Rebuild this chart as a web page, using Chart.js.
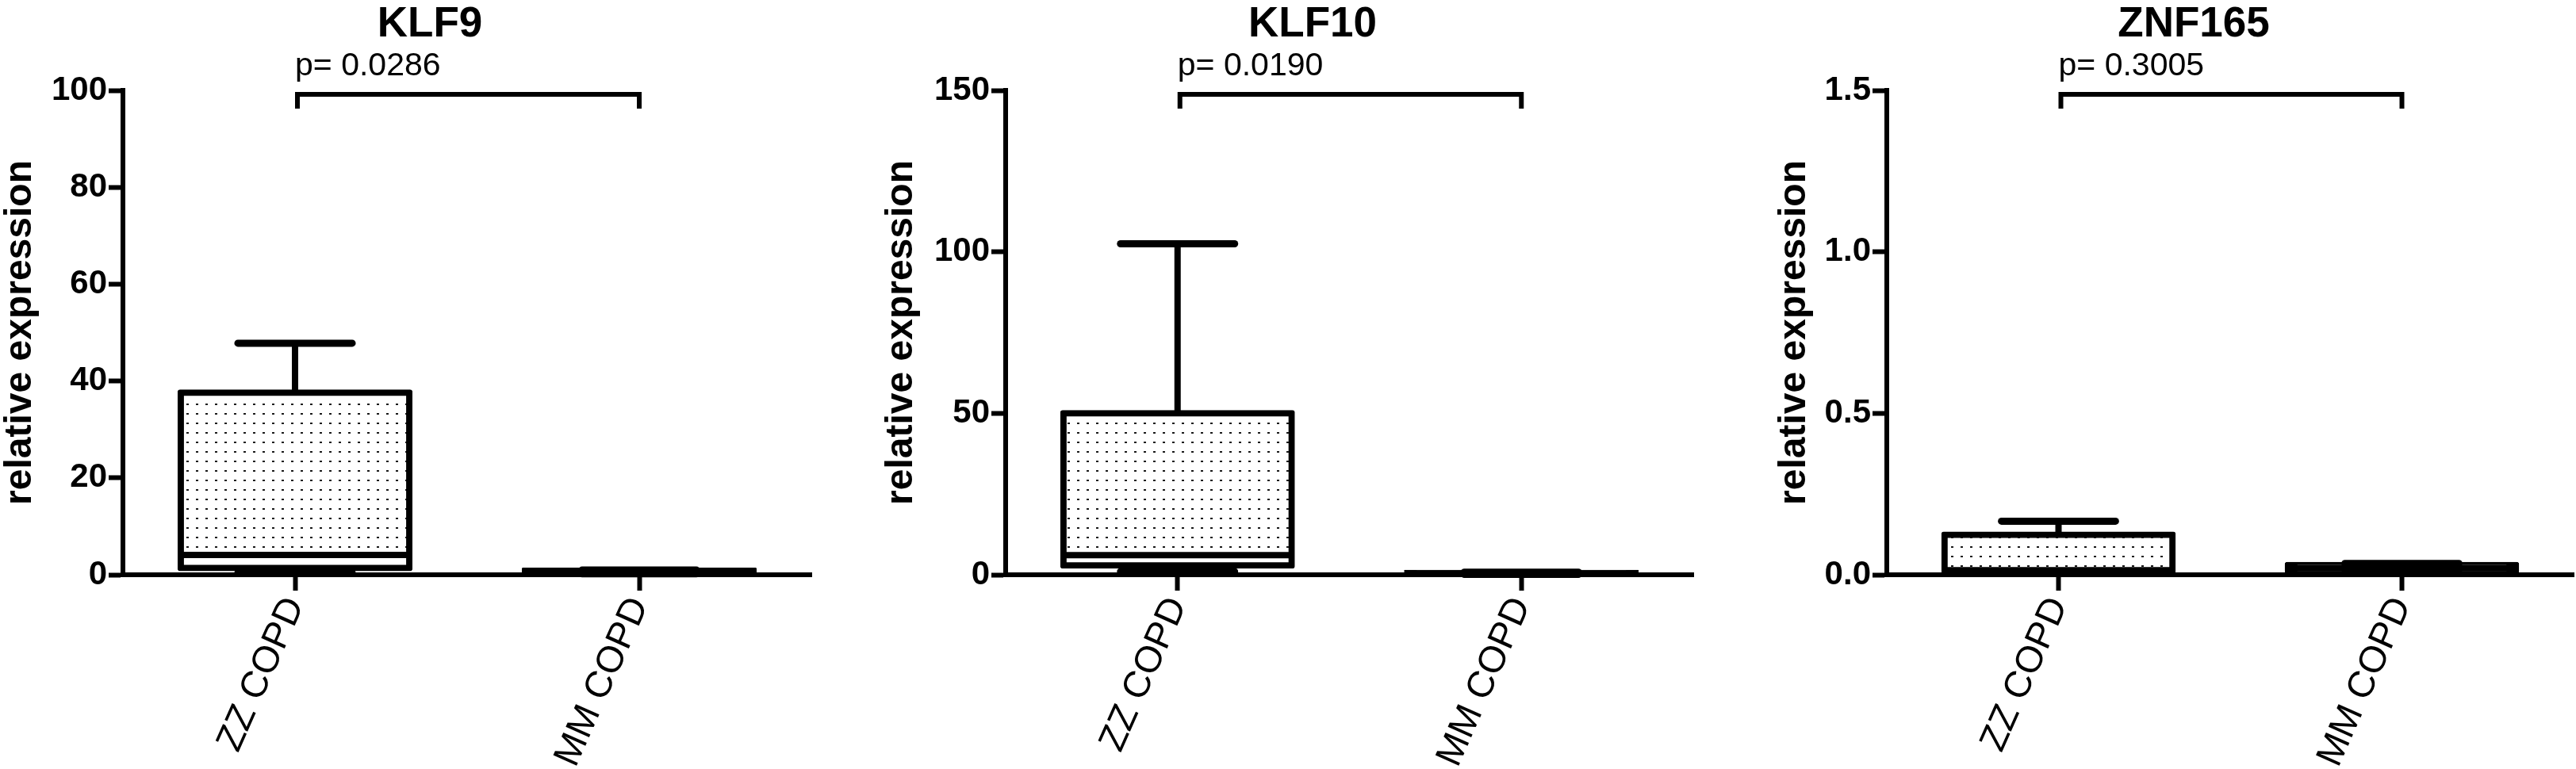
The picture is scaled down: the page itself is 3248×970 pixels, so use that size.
<!DOCTYPE html>
<html>
<head>
<meta charset="utf-8">
<script src="https://cdn.jsdelivr.net/npm/chart.js@4.4.1/dist/chart.umd.min.js"></script>
<style>
body { margin: 0; background: #fff; width: 3248px; height: 970px; overflow: hidden; position: relative; }
canvas { position: absolute; top: 0; }
</style>
</head>
<body>
<canvas id="klf9" width="1024" height="970" style="left:2px"></canvas>
<canvas id="klf10" width="1025" height="970" style="left:1113px"></canvas>
<canvas id="znf165" width="1009" height="970" style="left:2239px"></canvas>
<script>
// groups on the x axis
let groups = ['ZZ COPD', 'MM COPD']

// box plot values (min, q1, median, q3, max) for each gene
let klf9Min = [0.4, 0.2]
let klf9Q1 = [1.4, 0.4]
let klf9Median = [4.1, 0.6]
let klf9Q3 = [37.6, 0.8]
let klf9Max = [47.8, 1.0]

let klf10Min = [1.0, 0.1]
let klf10Q1 = [2.9, 0.25]
let klf10Median = [6.1, 0.4]
let klf10Q3 = [50.0, 0.55]
let klf10Max = [102.5, 0.8]

let znf165Min = [0.004, 0.006]
let znf165Q1 = [0.012, 0.012]
let znf165Median = [0.014, 0.02]
let znf165Q3 = [0.124, 0.030]
let znf165Max = [0.166, 0.035]

// y tick labels
let klf9Ticks = [0, 20, 40, 60, 80, 100]
let klf10Ticks = [0, 50, 100, 150]
let znf165Ticks = [0, 0.5, 1.0, 1.5]

let pValues = ['p= 0.0286', 'p= 0.0190', 'p= 0.3005']

const FONT = '"Liberation Sans", Arial, Helvetica, sans-serif'

// dotted fill like the prism pattern
function dotPattern() {
    let tile = document.createElement('canvas')
    tile.width = 12
    tile.height = 12
    let t = tile.getContext('2d')
    t.fillStyle = '#fff'
    t.fillRect(0, 0, 12, 12)
    t.fillStyle = '#1a1a1a'
    t.fillRect(5, 5, 3, 2)
    return t.createPattern(tile, 'repeat')
}

// whiskers, medians, title and p-value bracket
const boxExtras = {
    id: 'boxExtras',
    afterDatasetsDraw(chart, args, opts) {
        const ctx = chart.ctx
        const y = chart.scales.y
        const x = chart.scales.x
        const area = chart.chartArea
        const meta = chart.getDatasetMeta(0)

        function seg(x0, y0, x1, y1, w, cap) {
            ctx.lineWidth = w
            ctx.lineCap = cap
            ctx.beginPath()
            ctx.moveTo(x0, y0)
            ctx.lineTo(x1, y1)
            ctx.stroke()
        }

        ctx.save()
        ctx.strokeStyle = '#000'
        meta.data.forEach(function(bar, i) {
            const half = bar.width / 2
            const capW = bar.width / 4
            const yMin = y.getPixelForValue(opts.min[i])
            const yQ1 = y.getPixelForValue(opts.q1[i])
            const yMed = y.getPixelForValue(opts.median[i])
            const yQ3 = y.getPixelForValue(opts.q3[i])
            const yMax = y.getPixelForValue(opts.max[i])
            // upper whisker
            seg(bar.x, yQ3, bar.x, yMax, 8, 'butt')
            seg(bar.x - capW, yMax, bar.x + capW, yMax, 9, 'round')
            // lower whisker
            seg(bar.x, yQ1, bar.x, yMin, 8, 'butt')
            seg(bar.x - capW, yMin, bar.x + capW, yMin, 9, 'round')
            // median
            seg(bar.x - half, yMed, bar.x + half, yMed, 8, 'butt')
        })

        // gene title
        ctx.fillStyle = '#000'
        ctx.font = 'bold 53px ' + FONT
        ctx.textAlign = 'center'
        ctx.textBaseline = 'alphabetic'
        ctx.fillText(opts.title, area.left + 387, 46)

        // significance bracket
        const xa = x.getPixelForValue(0) + 3
        const xb = x.getPixelForValue(1)
        const top = area.top + 5
        ctx.lineWidth = 6
        ctx.lineCap = 'butt'
        ctx.lineJoin = 'miter'
        ctx.beginPath()
        ctx.moveTo(xa, top + 18)
        ctx.lineTo(xa, top)
        ctx.lineTo(xb, top)
        ctx.lineTo(xb, top + 18)
        ctx.stroke()

        ctx.font = '41px ' + FONT
        ctx.textAlign = 'left'
        ctx.fillText(opts.p, xa - 3, 95)
        ctx.restore()
    }
}

function makeChart(id, title, p, ticks, digits, mins, q1s, meds, q3s, maxs, yWidth) {
    let ctx = document.getElementById(id).getContext('2d')
    let boxes = q1s.map(function(v, i) { return [v, q3s[i]] })
    return new Chart(ctx, {
        type: 'bar',
        data: {
            labels: groups,
            datasets: [{
                data: boxes,
                backgroundColor: [dotPattern(), '#000'],
                borderColor: '#000',
                borderWidth: 8,
                borderSkipped: false,
                borderRadius: 3,
                inflateAmount: 4,
                barPercentage: 1,
                categoryPercentage: 0.664
            }]
        },
        options: {
            responsive: false,
            animation: false,
            devicePixelRatio: 1,
            layout: { padding: { top: 114, right: 3, bottom: 0, left: 0 } },
            plugins: {
                legend: { display: false },
                tooltip: { enabled: false },
                boxExtras: { title: title, p: p, min: mins, q1: q1s, median: meds, q3: q3s, max: maxs }
            },
            scales: {
                x: {
                    grid: { offset: false, drawOnChartArea: false, drawTicks: true, tickLength: 20, tickWidth: 6, tickColor: '#000' },
                    border: { display: true, width: 6, color: '#000' },
                    ticks: {
                        color: '#000',
                        font: { family: FONT, size: 47 },
                        minRotation: 66,
                        maxRotation: 66,
                        padding: 0
                    },
                    afterFit: function(scale) { scale.height = 245 }
                },
                y: {
                    min: ticks[0],
                    max: ticks[ticks.length - 1],
                    afterBuildTicks: function(scale) {
                        scale.ticks = ticks.map(function(v) { return { value: v } })
                    },
                    grid: { drawOnChartArea: false, drawTicks: true, tickLength: 18, tickWidth: 6, tickColor: '#000' },
                    border: { display: true, width: 6, color: '#000' },
                    ticks: {
                        color: '#000',
                        font: { family: FONT, size: 42, weight: 'bold' },
                        padding: 2,
                        callback: function(v) { return Number(v).toFixed(digits) }
                    },
                    title: {
                        display: true,
                        text: 'relative expression',
                        color: '#000',
                        font: { family: FONT, size: 48, weight: 'bold', lineHeight: 1 },
                        padding: 0
                    },
                    afterFit: function(scale) { scale.width = yWidth }
                }
            }
        },
        plugins: [boxExtras]
    })
}

makeChart('klf9', 'KLF9', pValues[0], klf9Ticks, 0, klf9Min, klf9Q1, klf9Median, klf9Q3, klf9Max, 153)
makeChart('klf10', 'KLF10', pValues[1], klf10Ticks, 0, klf10Min, klf10Q1, klf10Median, klf10Q3, klf10Max, 155)
makeChart('znf165', 'ZNF165', pValues[2], znf165Ticks, 1, znf165Min, znf165Q1, znf165Median, znf165Q3, znf165Max, 140)
</script>
</body>
</html>
